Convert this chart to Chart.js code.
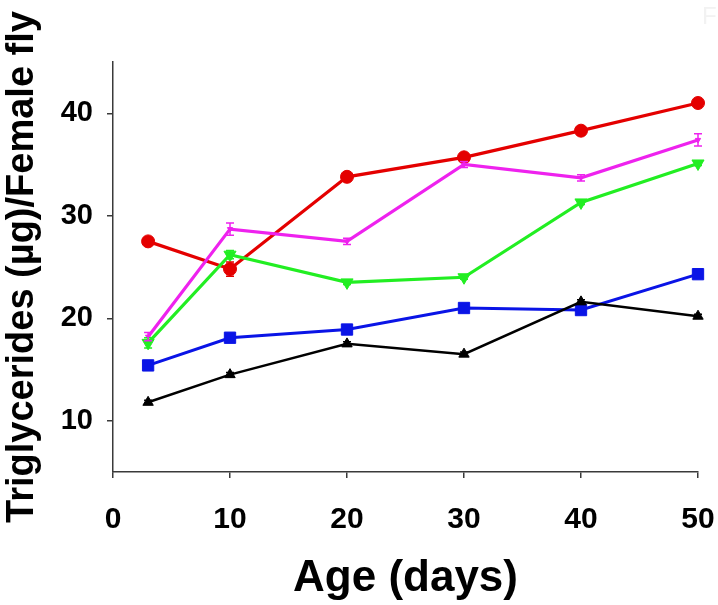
<!DOCTYPE html>
<html>
<head>
<meta charset="utf-8">
<script src="https://cdn.jsdelivr.net/npm/chart.js@4/dist/chart.umd.min.js"></script>
<style>
  html, body { margin: 0; padding: 0; background: #fff; }
  #wrap { width: 718px; height: 605px; position: relative; }
</style>
</head>
<body>
<div id="wrap"><canvas id="chart"></canvas></div>
<script>
// ages (days) at which flies were measured
const ages = [3, 10, 20, 30, 40, 50];

// triglycerides per female fly, one list per line
const redVals = [27.5, 24.8, 33.8, 35.7, 38.3, 41.0];
const magentaVals = [18.2, 28.7, 27.5, 35.0, 33.7, 37.4];
const greenVals = [17.6, 26.2, 23.5, 24.0, 31.3, 35.1];
const blueVals = [15.4, 18.1, 18.9, 21.0, 20.8, 24.3];
const blackVals = [11.8, 14.5, 17.5, 16.5, 21.6, 20.2];

// error bar half-widths
const redErr = [0.2, 0.7, 0.2, 0.2, 0.2, 0.2];
const magentaErr = [0.4, 0.6, 0.3, 0.3, 0.3, 0.6];
const greenErr = [0.5, 0.4, 0.2, 0.2, 0.2, 0.2];
const blueErr = [0.2, 0.2, 0.2, 0.2, 0.2, 0.2];
const blackErr = [0.2, 0.2, 0.2, 0.2, 0.2, 0.2];

const yTicks = [10, 20, 30, 40];
const xTicks = [0, 10, 20, 30, 40, 50];

const FONT = "'Liberation Sans', Arial, sans-serif";
const AXIS = "#3a3a3a";

function series(vals, errs, color, style, radius, rotation, width) {
  return {
    data: ages.map((a, i) => ({ x: a, y: vals[i] })),
    errors: errs,
    borderColor: color,
    backgroundColor: color,
    borderWidth: width,
    pointStyle: style,
    pointRadius: radius,
    pointRotation: rotation,
    pointBorderWidth: 1,
    tension: 0,
    clip: false
  };
}

const errorBars = {
  id: "errorBars",
  afterDatasetsDraw(chart) {
    const ctx = chart.ctx;
    const y = chart.scales.y;
    chart.data.datasets.forEach((ds, di) => {
      const meta = chart.getDatasetMeta(di);
      ctx.save();
      ctx.strokeStyle = ds.borderColor;
      ctx.lineWidth = 1.5;
      meta.data.forEach((pt, i) => {
        const v = ds.data[i].y;
        const e = ds.errors[i];
        const top = y.getPixelForValue(v + e);
        const bot = y.getPixelForValue(v - e);
        ctx.beginPath();
        ctx.moveTo(pt.x, top);
        ctx.lineTo(pt.x, bot);
        ctx.moveTo(pt.x - 4, top);
        ctx.lineTo(pt.x + 4, top);
        ctx.moveTo(pt.x - 4, bot);
        ctx.lineTo(pt.x + 4, bot);
        ctx.stroke();
      });
      ctx.restore();
    });
  }
};

const cornerMark = {
  id: "cornerMark",
  afterDraw(chart) {
    const ctx = chart.ctx;
    ctx.save();
    ctx.fillStyle = "#f2f2f2";
    ctx.font = "24px " + FONT;
    ctx.textBaseline = "top";
    ctx.fillText("F", 702, 5);
    ctx.restore();
  }
};

new Chart(document.getElementById("chart"), {
  type: "line",
  data: {
    datasets: [
      series(blackVals, blackErr, "#000000", "triangle", 6, 0, 2.5),
      series(blueVals, blueErr, "#0a14e6", "rect", 8, 0, 3),
      series(greenVals, greenErr, "#22ee22", "triangle", 7, 180, 3.2),
      series(magentaVals, magentaErr, "#ee22ee", "triangle", 3, 180, 3.2),
      series(redVals, redErr, "#e40000", "circle", 6.5, 0, 3.2)
    ]
  },
  options: {
    responsive: true,
    maintainAspectRatio: false,
    animation: false,
    layout: { padding: { top: 62, right: 20, left: 0, bottom: 0 } },
    plugins: {
      legend: { display: false },
      tooltip: { enabled: false }
    },
    scales: {
      x: {
        type: "linear",
        min: 0,
        max: 50,
        afterBuildTicks(scale) {
          scale.ticks = xTicks.map((v) => ({ value: v }));
        },
        afterFit(scale) {
          scale.height = 133;
          scale.paddingLeft = 0;
          scale.paddingRight = 0;
        },
        grid: { drawOnChartArea: false, drawTicks: true, tickLength: 6, color: AXIS, lineWidth: 1.5 },
        border: { display: true, color: AXIS, width: 1.5 },
        ticks: {
          color: "#000",
          padding: 24,
          font: { family: FONT, size: 30, weight: "bold" }
        },
        title: {
          display: true,
          text: "Age (days)",
          color: "#000",
          padding: { top: 0, bottom: 0 },
          font: { family: FONT, size: 44, weight: "bold" }
        }
      },
      y: {
        min: 5,
        max: 45,
        afterBuildTicks(scale) {
          scale.ticks = yTicks.map((v) => ({ value: v }));
        },
        afterFit(scale) {
          scale.width = 113;
          scale.paddingTop = 0;
          scale.paddingBottom = 0;
        },
        grid: { drawOnChartArea: false, drawTicks: true, tickLength: 6, color: AXIS, lineWidth: 1.5 },
        border: { display: true, color: AXIS, width: 1.5 },
        ticks: {
          color: "#000",
          padding: 14,
          font: { family: FONT, size: 29, weight: "bold" }
        },
        title: {
          display: true,
          text: "Triglycerides (µg)/Female fly",
          color: "#000",
          padding: { top: 0, bottom: 0 },
          font: { family: FONT, size: 38, weight: "bold" }
        }
      }
    }
  },
  plugins: [errorBars, cornerMark]
});
</script>
</body>
</html>
